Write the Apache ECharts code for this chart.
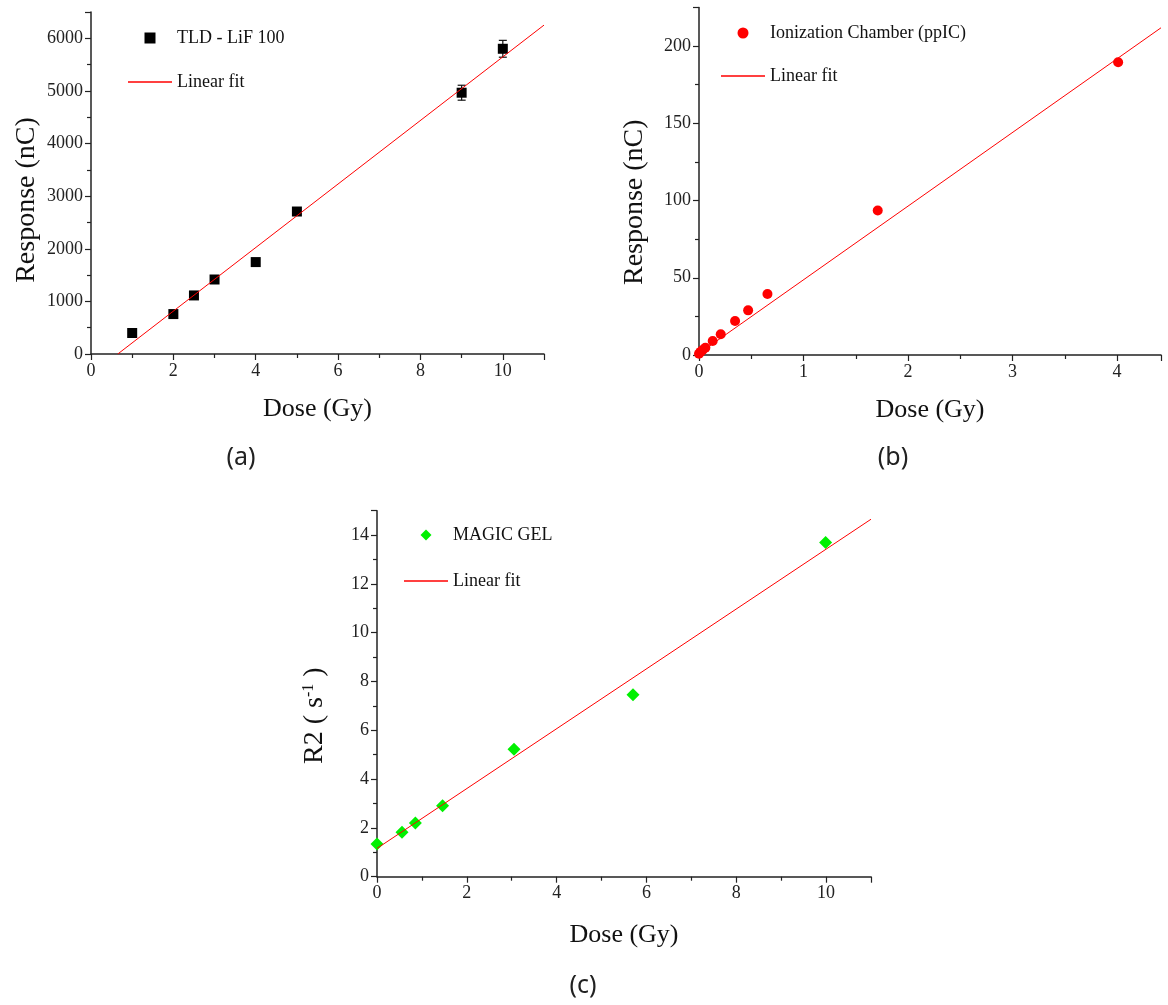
<!DOCTYPE html>
<html><head><meta charset="utf-8">
<script src="https://cdn.jsdelivr.net/npm/echarts@6/dist/echarts.min.js"></script>
<style>html,body{margin:0;padding:0;background:#fff}#c{width:1168px;height:1005px}</style>
</head><body><div id="c"></div>
<script>
// (a) TLD - LiF 100
const tldDose = [1, 2, 2.5, 3, 4, 5, 9, 10];
const tldResponse = [399, 759, 1113, 1416, 1747, 2708, 4966, 5801];
const tldError = [40, 40, 40, 40, 40, 60, 142, 160];
const tldFitDose = [0.65, 11];
const tldFitResponse = [0, 6251];

// (b) Ionization Chamber (ppIC)
const icDose = [0, 0.015, 0.035, 0.061, 0.131, 0.208, 0.345, 0.47, 0.655, 1.71, 4.01];
const icResponse = [0.8, 2, 3.2, 4.7, 9.1, 13.4, 22, 28.9, 39.5, 93.5, 189.5];
const icFitDose = [0, 4.42];
const icFitResponse = [1, 211.8];

// (c) MAGIC GEL
const gelDose = [0, 0.557, 0.855, 1.46, 3.05, 5.70, 9.99];
const gelR2 = [1.34, 1.82, 2.2, 2.91, 5.22, 7.46, 13.7];
const gelFitDose = [0, 11];
const gelFitR2 = [1.16, 14.65];

const SERIF = '"Liberation Serif","Times New Roman",serif';
const zip = (a, b) => a.map((v, i) => [v, b[i]]);
const LINE_ICON = 'path://M0,0L44,0L44,1.4L0,1.4Z';

function valueAxis(o) {
  return Object.assign({
    type: 'value', splitLine: {show: false},
    axisLine: {show: true, onZero: false, lineStyle: {color: '#222', width: 1.5}},
    axisTick: {show: true, inside: false, length: 6, lineStyle: {color: '#222', width: 1.2}},
    minorTick: {show: true, splitNumber: 2, length: 4, lineStyle: {color: '#222', width: 1.2}},
    axisLabel: {color: '#222', fontFamily: SERIF, fontSize: 18, margin: 8, showMaxLabel: false,
      formatter: function (v) { return String(v); }},
    nameLocation: 'middle',
    nameTextStyle: {fontFamily: SERIF, fontSize: 26, color: '#111'}
  }, o);
}

function legend(left, top, gap, first, icon) {
  return {
    orient: 'vertical', left: left, top: top, padding: 0, itemWidth: 44, itemHeight: 11, itemGap: gap,
    textStyle: {fontFamily: SERIF, fontSize: 18, lineHeight: 18, color: '#111'},
    selectedMode: false,
    data: [{name: first, icon: icon}, {name: 'Linear fit', icon: LINE_ICON}]
  };
}

function caption(text, x, y) {
  return {type: 'text', x: x, y: y, style: {text: text, font: '25px "Noto Sans"', fill: '#222',
    textAlign: 'center', align: 'center', textVerticalAlign: 'middle', verticalAlign: 'middle'}};
}

const fitStyle = {type: 'line', name: 'Linear fit', symbol: 'none', showSymbol: false, color: '#ff0000',
  lineStyle: {color: '#ff0000', width: 1}, z: 4, silent: true};

const option = {
  animation: false,
  grid: [
    {left: 91, top: 12, width: 453, height: 342},
    {left: 699, top: 7.4, width: 462, height: 347.6},
    {left: 377, top: 510.7, width: 494, height: 366}
  ],
  xAxis: [
    valueAxis({gridIndex: 0, min: 0, max: 11, interval: 2, name: 'Dose (Gy)', nameGap: 42}),
    valueAxis({gridIndex: 1, min: 0, max: 4.42, interval: 1, name: 'Dose (Gy)', nameGap: 42}),
    valueAxis({gridIndex: 2, min: 0, max: 11, interval: 2, name: 'Dose (Gy)', nameGap: 45})
  ],
  yAxis: [
    valueAxis({gridIndex: 0, min: 0, max: 6500, interval: 1000, name: 'Response (nC)', nameGap: 50,
      nameTextStyle: {fontFamily: SERIF, fontSize: 28, color: '#111', padding: [0, 34, 0, 0]}}),
    valueAxis({gridIndex: 1, min: 0, max: 225, interval: 50, name: 'Response (nC)', nameGap: 50,
      nameTextStyle: {fontFamily: SERIF, fontSize: 28, color: '#111', padding: [0, 42, 0, 0]}}),
    valueAxis({gridIndex: 2, min: 0, max: 15, interval: 2, name: 'R2 ( s{sup|-1} )', nameGap: 48,
      nameTextStyle: {fontFamily: SERIF, fontSize: 28, color: '#111', padding: [0, 44, 0, 0],
        rich: {sup: {fontFamily: SERIF, fontSize: 16, color: '#111', verticalAlign: 'top', padding: [0, 0, 12, 0]}}}})
  ],
  legend: [
    legend(128, 29, 26, 'TLD - LiF 100', 'path://M0,0L10,0L10,10L0,10Z'),
    legend(721, 24, 25, 'Ionization Chamber (ppIC)', 'circle'),
    legend(404, 526, 28, 'MAGIC GEL', 'path://M5,0L10,5L5,10L0,5Z')
  ],
  graphic: [caption('(a)', 241, 458), caption('(b)', 893, 458), caption('(c)', 583, 986)],
  series: [
    {type: 'custom', name: 'tld-error', xAxisIndex: 0, yAxisIndex: 0, z: 2, silent: true,
      data: tldDose.map((d, i) => [d, tldResponse[i], tldError[i]]),
      renderItem: function (params, api) {
        const x = api.value(0), y = api.value(1), e = api.value(2);
        const t = api.coord([x, y + e]), b = api.coord([x, y - e]);
        const cap = 4, st = {stroke: '#111', lineWidth: 1.2};
        return {type: 'group', children: [
          {type: 'line', shape: {x1: t[0], y1: t[1], x2: b[0], y2: b[1]}, style: st},
          {type: 'line', shape: {x1: t[0] - cap, y1: t[1], x2: t[0] + cap, y2: t[1]}, style: st},
          {type: 'line', shape: {x1: b[0] - cap, y1: b[1], x2: b[0] + cap, y2: b[1]}, style: st}
        ]};
      }},
    {type: 'scatter', name: 'TLD - LiF 100', xAxisIndex: 0, yAxisIndex: 0, symbol: 'rect', symbolSize: 10,
      itemStyle: {color: '#000', opacity: 1}, z: 3, data: zip(tldDose, tldResponse)},
    Object.assign({}, fitStyle, {xAxisIndex: 0, yAxisIndex: 0, data: zip(tldFitDose, tldFitResponse)}),

    {type: 'scatter', name: 'Ionization Chamber (ppIC)', xAxisIndex: 1, yAxisIndex: 1, symbol: 'circle', symbolSize: 10,
      itemStyle: {color: '#ff0000', opacity: 1}, z: 3, data: zip(icDose, icResponse)},
    Object.assign({}, fitStyle, {xAxisIndex: 1, yAxisIndex: 1, data: zip(icFitDose, icFitResponse)}),

    {type: 'scatter', name: 'MAGIC GEL', xAxisIndex: 2, yAxisIndex: 2, symbol: 'diamond', symbolSize: 13,
      itemStyle: {color: '#00f000', opacity: 1}, z: 3, data: zip(gelDose, gelR2)},
    Object.assign({}, fitStyle, {xAxisIndex: 2, yAxisIndex: 2, data: zip(gelFitDose, gelFitR2)})
  ]
};

const chart = echarts.init(document.getElementById('c'), null, {renderer: 'canvas'});
chart.setOption(option);
</script>
</body></html>
